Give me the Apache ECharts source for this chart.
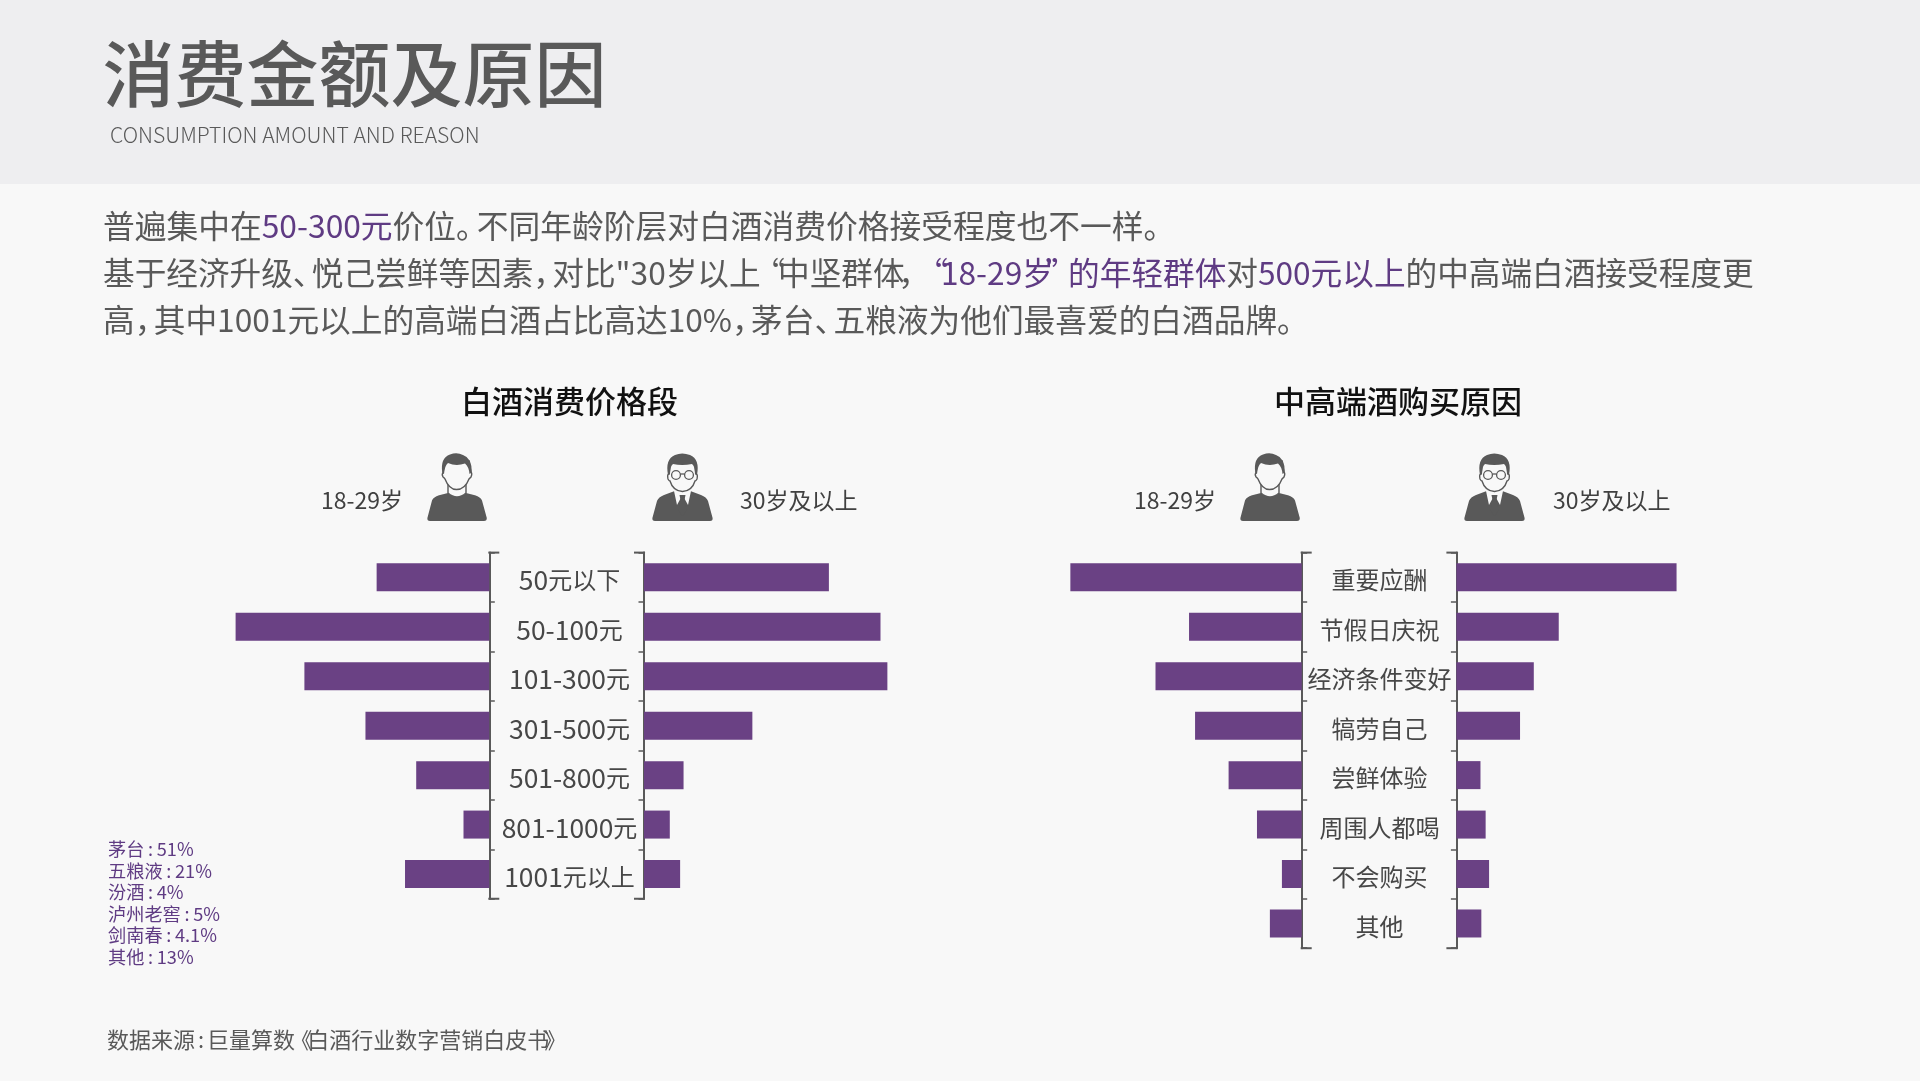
<!DOCTYPE html>
<html><head><meta charset="utf-8">
<style>html,body{margin:0;padding:0;background:#f8f8f8}#c{width:1920px;height:1081px}</style>
<script src="https://cdn.jsdelivr.net/npm/echarts@6/dist/echarts.min.js"></script>
</head><body><div id="c"></div>
<script>
// ---------- data ----------
const priceCategories = ['50元以下','50-100元','101-300元','301-500元','501-800元','801-1000元','1001元以上'];
const priceYoung = [13.1,29.5,21.5,14.4,8.5,3.0,9.8];
const priceOlder = [21.5,27.5,28.3,12.6,4.6,3.0,4.2];
const reasonCategories = ['重要应酬','节假日庆祝','经济条件变好','犒劳自己','尝鲜体验','周围人都喝','不会购买','其他'];
const reasonYoung = [26.9,13.1,17.0,12.4,8.5,5.2,2.3,3.7];
const reasonOlder = [25.6,11.9,9.0,7.4,2.8,3.4,3.8,2.9];
const brandNames = ['茅台','五粮液','汾酒','泸州老窖','剑南春','其他'];
const brandShares = ['51%','21%','4%','5%','4.1%','13%'];
const ageYoung = '18-29岁';
const ageOlder = '30岁及以上';
const titleMain = '消费金额及原因';
const titleSub = 'CONSUMPTION AMOUNT AND REASON';
const chartTitleLeft = '白酒消费价格段';
const chartTitleRight = '中高端酒购买原因';
const sourceText = '数据来源:巨量算数《白酒行业数字营销白皮书》';
const para = [
  [['g','普遍集中在'],['p','50-300元'],['g','价位。不同年龄阶层对白酒消费价格接受程度也不一样。']],
  [['g','基于经济升级、悦己尝鲜等因素，对比"30岁以上“中坚群体，'],['p','“18-29岁”的年轻群体'],['g','对'],['p','500元以上'],['g','的中高端白酒接受程度更']],
  [['g','高，其中1001元以上的高端白酒占比高达10%，茅台、五粮液为他们最喜爱的白酒品牌。']]
];
const paraSizes = [31.75, 31.65, 31.7];
// ---------- styles ----------
const FONT = '"Noto Sans CJK SC"';
const GREY = '#595959', PURPLE = '#5f3b83', BAR = '#6a4184', AXIS = '#595959';
const VMAX = 32, PX = 8.6, BAND = 49.45, TOP = 552.6, BARW = 28;
const W = VMAX * PX;

function richLine(segs, size, colonBox) {
  const kinds = { '，': 'A', '、': 'A', '。': 'B', '“': 'Q', '”': 'E', '《': 'K', '》': 'M', ':': 'C' };
  let out = '';
  segs.forEach(([k, t]) => {
    let buf = '';
    const flush = () => { if (buf) { out += '{' + k + '|' + buf + '}'; buf = ''; } };
    for (const ch of t) {
      const s = kinds[ch];
      if (s) { flush(); out += '{' + k + s + '|' + ch + '}'; }
      else buf += ch;
    }
    flush();
  });
  const rich = {};
  [['g', GREY], ['p', PURPLE]].forEach(([k, c]) => {
    const base = { fontFamily: FONT, fontSize: size, fill: c };
    rich[k] = base;
    rich[k + 'A'] = { ...base, width: size * 0.6, align: 'left' };
    rich[k + 'B'] = { ...base, width: size * 0.65, align: 'left' };
    rich[k + 'Q'] = { ...base, width: size * 0.55, align: 'center' };
    rich[k + 'E'] = { ...base, width: size * 0.45, align: 'center' };
    rich[k + 'K'] = { ...base, width: size * 0.55, align: 'right' };
    rich[k + 'M'] = { ...base, width: size * 0.55, align: 'left' };
    rich[k + 'C'] = { ...base, width: size * (colonBox || 0.68), align: 'center' };
  });
  return { text: out, rich };
}
function T(x, y, style) {
  return { type: 'text', x, y, z: 10, style: Object.assign({ fontFamily: FONT, verticalAlign: 'middle' }, style) };
}
function categoryLabel(v) {
  return v.replace(/[0-9-]+|[^0-9-]+/g, m => (/[0-9]/.test(m) ? '{d|' : '{c|') + m + '}');
}
function personYoung(x, y) {
  const d = { fill: AXIS }, f = { fill: '#f8f8f8', stroke: AXIS, lineWidth: 1.4 };
  const p = (pathData, style) => ({ type: 'path', shape: { pathData }, style });
  return { type: 'group', x, y, children: [
    p('M0.4 65 L5 47.5 Q6.5 44 12 42.3 L21 40 Q30 48 39 40 L48 42.3 Q53.5 44 55 47.5 L59.8 65 Q60 68 57 68 L3 68 Q0 68 0.4 65 Z', d),
    p('M21 31 L21 40 Q30 48 39 40 L39 31 Z', f),
    p('M16 20 Q14.5 21 16 24 Q17.5 25 18 26 Q22 36.5 29.5 36.5 Q38 36.5 42 26 Q43 25 44 24 Q45.5 21 44 19 L42 8 L18 8 Z', f),
    p('M15.3 20 Q13 5 23 1.5 Q30 -1 36 2 Q45 5 44.7 19 L42.5 21 Q42 14 38 10.5 Q29 13.5 21 10 Q17.5 13 17 21 Z', d)
  ]};
}
function personOlder(x, y) {
  const d = { fill: AXIS }, f = { fill: '#f8f8f8', stroke: AXIS, lineWidth: 1.4 }, g = { fill: 'transparent', stroke: AXIS, lineWidth: 1.3 };
  const p = (pathData, style) => ({ type: 'path', shape: { pathData }, style });
  return { type: 'group', x, y, children: [
    p('M0.4 65 L5 48 Q6.5 44 12 42 L24 37.5 L37 37.5 L49 42 Q54.5 44 56 48 L60.6 65 Q61 68 58 68 L3 68 Q0 68 0.4 65 Z', d),
    p('M22 38 L26 36 L35 36 L39 38 L36 52 L30.5 42 L25 52 Z', { fill: '#f8f8f8' }),
    p('M27.5 42 L33.5 42 L32.5 47 L34.5 58 L30.5 63 L26.5 58 L28.5 47 Z', d),
    p('M17 21 Q15 21 16 26 Q17 28 18 28 Q21 38 30.5 38.5 Q40 38 43 28 Q44 28 45 26 Q46 21 44 21 L42 8 L19 8 Z', f),
    p('M16 22 Q13 6 23 2 Q30 -1 38 2 Q48 6 45 22 L43 21 Q43 13 40 11 Q30 13 21 11 Q18 13 18 21 Z', d),
    { type: 'circle', shape: { cx: 24, cy: 22, r: 4.4 }, style: g },
    { type: 'circle', shape: { cx: 37, cy: 22, r: 4.4 }, style: g },
    { type: 'line', shape: { x1: 28.4, y1: 21, x2: 32.6, y2: 21 }, style: { stroke: AXIS, lineWidth: 1.3 } }
  ]};
}
function lineEl(x1, y1, x2, y2) {
  return { type: 'line', z: 10, shape: { x1, y1, x2, y2 }, style: { stroke: AXIS, lineWidth: 2 } };
}
// ---------- layout of the two pyramids ----------
const charts = [
  { axisL: 489.3, axisR: 644, cats: priceCategories, young: priceYoung, older: priceOlder, lblMargin: 74.5 },
  { axisL: 1301.7, axisR: 1456.4, cats: reasonCategories, young: reasonYoung, older: reasonOlder, lblMargin: 77 }
];
const grid = [], xAxis = [], yAxis = [], series = [], graphic = [];
const catColor = '#474747';
charts.forEach((c, i) => {
  const h = c.cats.length * BAND;
  const a = i * 2, b = i * 2 + 1;
  grid.push({ left: c.axisL - W, top: TOP, width: W, height: h });
  grid.push({ left: c.axisR, top: TOP, width: W, height: h });
  xAxis.push({ gridIndex: a, type: 'value', min: 0, max: VMAX, inverse: true, show: false });
  xAxis.push({ gridIndex: b, type: 'value', min: 0, max: VMAX, show: false });
  const common = { type: 'category', data: c.cats, inverse: true,
    axisLine: { show: true, lineStyle: { color: AXIS, width: 2 } },
    axisTick: { show: true, inside: false, length: 5.5, lineStyle: { color: AXIS, width: 1.5 } } };
  yAxis.push(Object.assign({ gridIndex: a, position: 'right', axisLabel: { show: false } }, common));
  yAxis.push(Object.assign({ gridIndex: b, position: 'left',
    axisLabel: { show: true, align: 'center', margin: c.lblMargin, padding: [6, 0, 0, 0], interval: 0, formatter: categoryLabel,
      rich: { d: { fontFamily: FONT, fontSize: 26.4, color: catColor }, c: { fontFamily: FONT, fontSize: 24, color: catColor } } } }, common));
  series.push({ type: 'bar', xAxisIndex: a, yAxisIndex: a, data: c.young, barWidth: BARW, itemStyle: { color: BAR }, silent: true, animation: false });
  series.push({ type: 'bar', xAxisIndex: b, yAxisIndex: b, data: c.older, barWidth: BARW, itemStyle: { color: BAR }, silent: true, animation: false });
  // longer end ticks of the brackets
  [TOP, TOP + h].forEach(y => {
    graphic.push(lineEl(c.axisL - 1, y, c.axisL + 10, y));
    graphic.push(lineEl(c.axisR - 10, y, c.axisR + 1, y));
  });
});
// person icons, drawn through one custom series
series.push({ type: 'custom', coordinateSystem: 'none', data: [0], silent: true, animation: false, z: 10,
  renderItem: () => ({ type: 'group', children: [
    personYoung(427, 453), personOlder(652, 453), personYoung(1240, 453), personOlder(1464, 453)
  ] }) });
// ---------- page furniture ----------
graphic.push({ type: 'rect', z: 0, shape: { x: 0, y: 0, width: 1920, height: 184 }, style: { fill: '#eeeef0' } });
graphic.push(T(102.5, 74, { text: titleMain, fontSize: 72, fontWeight: 500, fill: GREY }));
graphic.push(T(110, 135, { text: titleSub, fontSize: 21.15, fontWeight: 300, fill: GREY }));
[225.8, 273.2, 320].forEach((y, i) => {
  graphic.push(T(103, y, richLine(para[i], paraSizes[i])));
});
graphic.push(T(569.5, 401, { text: chartTitleLeft, fontSize: 31, fontWeight: 500, fill: '#111', align: 'center' }));
graphic.push(T(1398, 401, { text: chartTitleRight, fontSize: 31, fontWeight: 500, fill: '#111', align: 'center' }));
[[321, 740], [1134, 1553]].forEach(([xa, xb]) => {
  graphic.push(T(xa, 500.5, { text: ageYoung, fontSize: 23, fill: '#404040' }));
  graphic.push(T(xb, 500.5, { text: ageOlder, fontSize: 23, fill: '#404040' }));
});
brandNames.forEach((n, i) => {
  graphic.push(T(108, 849 + i * 21.6, richLine([['p', n + ':' + brandShares[i]]], 18.2)));
});
graphic.push(T(107, 1040, richLine([['g', sourceText]], 22, 0.55)));

const chart = echarts.init(document.getElementById('c'), null, { width: 1920, height: 1081 });
chart.setOption({ animation: false, backgroundColor: '#f8f8f8', grid, xAxis, yAxis, series, graphic });
</script></body></html>
